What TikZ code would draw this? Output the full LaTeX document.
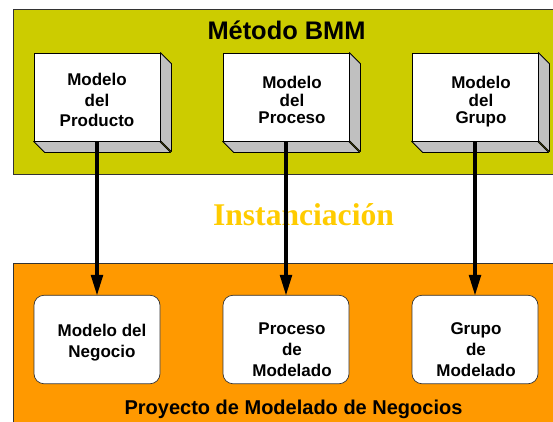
\documentclass[tikz,border=0pt]{standalone}
\usepackage{fontspec}
\setmainfont{Liberation Sans}
\newfontfamily\serifbold{Liberation Serif}[BoldFont={Liberation Serif Bold}]
\usetikzlibrary{arrows.meta}
\definecolor{olivebg}{RGB}{204,204,0}
\definecolor{orangebg}{RGB}{255,153,0}
\definecolor{goldtxt}{RGB}{255,204,0}
\definecolor{sidegray}{RGB}{192,192,192}
\tikzset{
  panel/.style={draw=black!80,line width=0.8pt},
  cube/.style={draw=black,fill=white,line width=0.8pt,minimum width=126pt,minimum height=88pt,inner sep=0pt},
  cubeside/.style={draw=black,fill=sidegray,line width=0.8pt,line join=round},
  rbox/.style={draw=black!80,fill=white,line width=0.7pt,rounded corners=10pt,minimum width=126pt,minimum height=88.5pt,inner sep=0pt},
  lbl/.style={font=\fontsize{17pt}{17.5pt}\selectfont\bfseries,align=center,inner sep=0pt},
  flow/.style={draw=black,line width=3.8pt,-{Triangle[length=20pt,width=12.7pt,line width=0pt]},shorten >=0pt}
}
\newcommand{\cubedepth}[1]{
  \draw[cubeside] (#1.north east) -- ++(11,11) -- ++(0,88) -- ++(-11,-11) -- cycle;
  \draw[cubeside] (#1.south west) -- ++(11,11) -- ++(126,0) -- ++(-11,-11) -- cycle;
}
\begin{document}
\begin{tikzpicture}[x=1pt,y=-1pt]
\useasboundingbox (0,0) rectangle (553,421);
\clip (0,0) rectangle (553,421);
\fill[white] (0,0) rectangle (553,421);
\draw[panel,fill=olivebg] (13,9) rectangle (560,174);
\draw[panel,fill=orangebg] (13,263) rectangle (560,430);

\node[cube] (m1) at (97,97) {};
\node[cube] (m2) at (286,97) {};
\node[cube] (m3) at (475,97) {};
\cubedepth{m1}\cubedepth{m2}\cubedepth{m3}

\node[rbox] (n1) at (97,339.5) {};
\node[rbox] (n2) at (286,339.5) {};
\node[rbox] (n3) at (475,339.5) {};

\node[font=\fontsize{25.4pt}{28pt}\selectfont\bfseries,inner sep=0pt] (title) at (286.5,30) {Método BMM};
\node[font=\fontsize{31.6pt}{36pt}\serifbold\selectfont\bfseries,text=goldtxt,inner sep=0pt] (inst) at (303.5,215) {Instanciación};
\node[font=\fontsize{20pt}{22pt}\selectfont\bfseries,inner sep=0pt] (proj) at (293.5,409.5) {Proyecto de Modelado de Negocios};

\node[lbl,font=\fontsize{17pt}{20.8pt}\selectfont\bfseries] (t1) at (97,100) {Modelo\\del\\Producto};
\node[lbl] (t2) at (292,100) {Modelo\\del\\Proceso};
\node[lbl] (t3) at (481,102) {Modelo\\del\hspace{8pt}\\Grupo};
\node[lbl,font=\fontsize{17pt}{20.8pt}\selectfont\bfseries] (b1) at (102,343) {Modelo del\\Negocio};
\node[lbl,font=\fontsize{17pt}{21pt}\selectfont\bfseries] (b2) at (292,349.5) {Proceso\\de\\Modelado};
\node[lbl,font=\fontsize{17pt}{21pt}\selectfont\bfseries] (b3) at (476,349.5) {Grupo\\de\\Modelado};

\draw[flow] (m1.south) -- (n1.north);
\draw[flow] (m2.south) -- (n2.north);
\draw[flow] (m3.south) -- (n3.north);
\end{tikzpicture}
\end{document}
